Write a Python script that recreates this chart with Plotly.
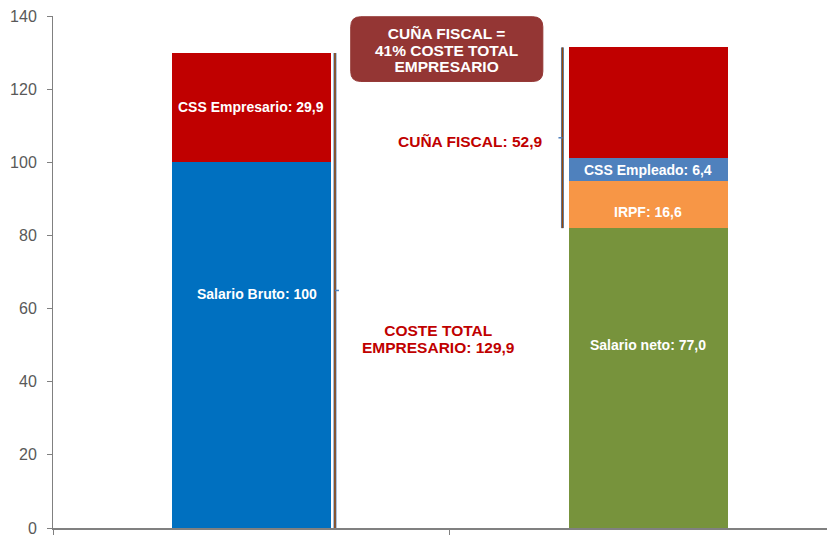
import plotly.graph_objects as go

# bar positions (0 = coste empresa, 1 = trabajador)
bar_x = [0, 1]

# left bar segments
salario_bruto = 100
css_empresario = 29.9

# right bar segments (heights as drawn in the picture)
salario_neto = 82.0
irpf = 12.8
css_empleado = 6.5
cuna_empresa = 30.1

# label texts as printed on the chart
label_bruto = "Salario Bruto: 100"
label_css_emp = "CSS Empresario: 29,9"
label_neto = "Salario neto: 77,0"
label_irpf = "IRPF: 16,6"
label_css_empl = "CSS Empleado: 6,4"
label_cuna = "CUÑA FISCAL: 52,9"
label_coste = ["COSTE TOTAL", "EMPRESARIO: 129,9"]
label_box = ["CUÑA FISCAL =", "41% COSTE TOTAL", "EMPRESARIO"]

y_ticks = [0, 20, 40, 60, 80, 100, 120, 140]

BLUE = "#0070C0"
RED = "#C00000"
GREEN = "#77933C"
ORANGE = "#F79646"
LBLUE = "#4F81BD"
BOX = "#943634"

# page body has an 8px margin, so the figure is a bit smaller than the window
W, H = 827, 529
ML, MR, MT, MB = 45, 0, 6, 6
x_range = [-0.5, 1.47]
y_range = [0, 140]
px_x = (W - ML - MR) / (x_range[1] - x_range[0])
px_y = (H - MT - MB) / (y_range[1] - y_range[0])

FONT = "Liberation Sans, Arial"

fig = go.Figure()

def seg(x, y, color):
    fig.add_trace(go.Bar(x=[x], y=[y], marker=dict(color=color, line=dict(width=0)),
                         width=0.4, showlegend=False, hoverinfo="skip"))

seg(bar_x[0], salario_bruto, BLUE)
seg(bar_x[0], css_empresario, RED)
seg(bar_x[1], salario_neto, GREEN)
seg(bar_x[1], irpf, ORANGE)
seg(bar_x[1], css_empleado, LBLUE)
seg(bar_x[1], cuna_empresa, RED)

left_total = salario_bruto + css_empresario
right_total = salario_neto + irpf + css_empleado + cuna_empresa

# brackets
def bracket(x, y0, y1, tick_dir):
    fig.add_shape(type="line", x0=x, x1=x, y0=y0, y1=y1, line=dict(color=LBLUE, width=3))
    fig.add_shape(type="line", x0=x, x1=x, y0=y0, y1=y1, line=dict(color="#984807", width=1.5))
    ym = (y0 + y1) / 2
    fig.add_shape(type="line", x0=x, x1=x + tick_dir * 4 / px_x, y0=ym, y1=ym,
                  line=dict(color=LBLUE, width=1.5))

bracket(0.2103, 0, left_total, 1)
bracket(0.7834, salario_neto, right_total, -1)

# rounded box
def rounded_rect(x0, x1, y0, y1, r):
    rx, ry = r / px_x, r / px_y
    return (f"M {x0+rx},{y0} L {x1-rx},{y0} Q {x1},{y0} {x1},{y0+ry} "
            f"L {x1},{y1-ry} Q {x1},{y1} {x1-rx},{y1} L {x0+rx},{y1} "
            f"Q {x0},{y1} {x0},{y1-ry} L {x0},{y0+ry} Q {x0},{y0} {x0+rx},{y0} Z")

fig.add_shape(type="path", path=rounded_rect(0.25, 0.734, 122.1, 139.8, 10),
              fillcolor=BOX, line=dict(color=BOX, width=1), layer="above")

def note(x, y, text, color="white", size=14):
    fig.add_annotation(x=x, y=y, text=text, showarrow=False,
                       font=dict(family=FONT, size=size, color=color, weight="bold"))

def tight(lines, px):
    # big glyphs on a smaller base size -> tighter line spacing
    return "<br>".join(f'<span style="font-size:{px}px">{t}</span>' for t in lines)

note(0, 115, label_css_emp)
note(0.014, 64, label_bruto)
note(1, 98, label_css_empl)
note(1, 86.4, label_irpf)
note(1.0, 50, label_neto)
note(0.55, 105.6, label_cuna, RED, 15.5)
note(0.47, 51.7, tight(label_coste, 15.5), RED, 12.7)
note(0.492, 130.8, tight(label_box, 15.5), "white", 12.7)

fig.update_layout(
    width=W, height=H,
    margin=dict(l=ML, r=MR, t=MT, b=MB),
    barmode="stack",
    plot_bgcolor="white", paper_bgcolor="white",
    xaxis=dict(range=x_range, showgrid=False, zeroline=False,
               tickvals=[-0.5, 0.5, 1.5], ticks="outside", ticklen=5, tickcolor="#808080",
               showticklabels=False, showline=True, linecolor="#808080", linewidth=2),
    yaxis=dict(range=y_range, tickvals=y_ticks, showgrid=False, zeroline=False,
               ticks="outside", ticklen=5, tickcolor="#808080", ticklabelstandoff=7,
               ticklabeloverflow="allow",
               showline=True, linecolor="#808080", linewidth=1,
               tickfont=dict(family=FONT, size=16, color="#595959")),
)

fig.write_html("out.html")
